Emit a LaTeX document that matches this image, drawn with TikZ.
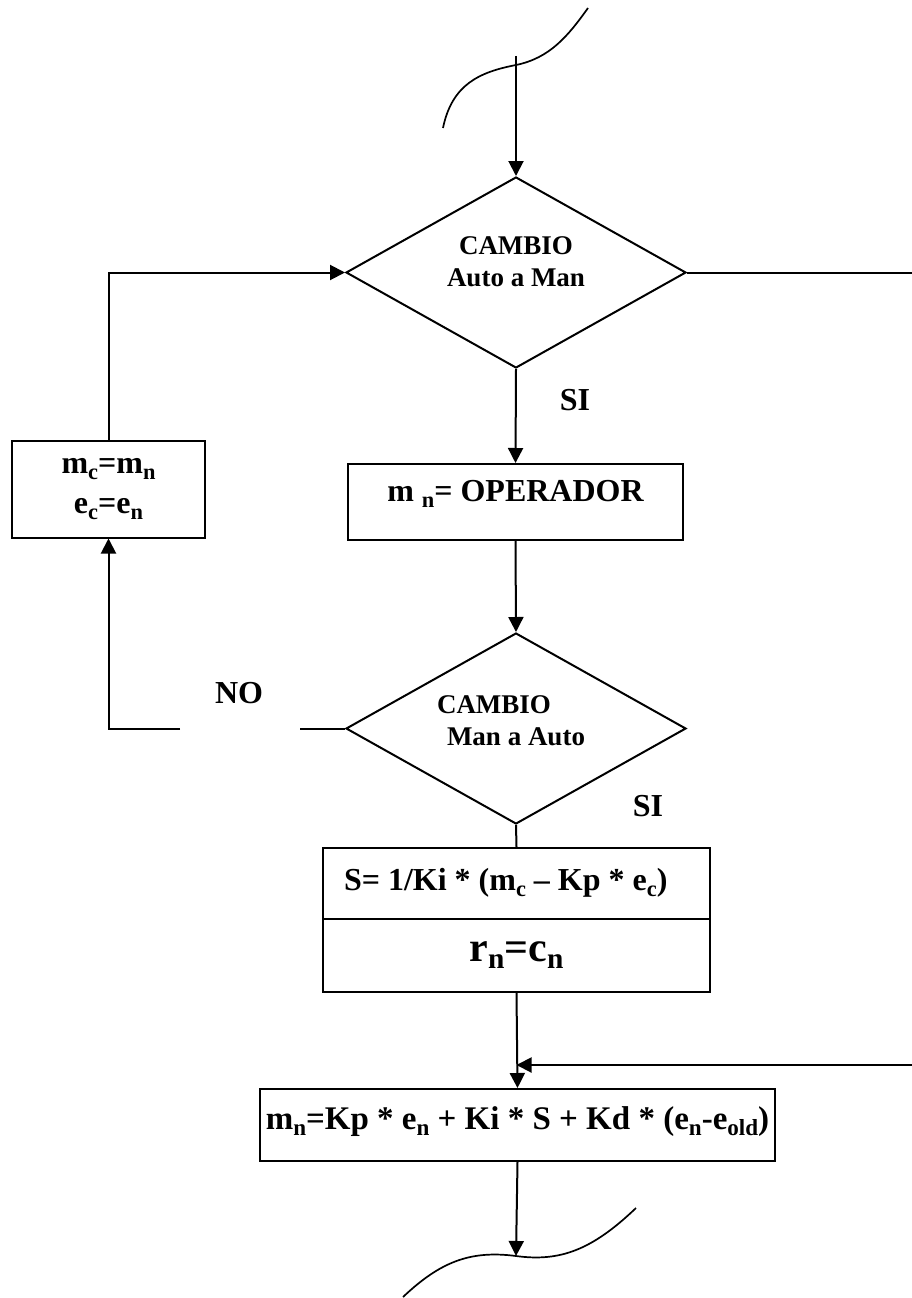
\documentclass[tikz,border=0pt]{standalone}
\usepackage{fontspec}
\setmainfont{Liberation Serif}
\usetikzlibrary{shapes.geometric,arrows.meta}
% lowered, reduced-size index for variable names
\newcommand{\dn}[1]{\raisebox{-0.18em}{\scalebox{0.7}{#1}}}
\begin{document}
\begin{tikzpicture}[x=1pt,y=-1pt,line width=2pt,
  flow/.style={-{Triangle[length=15pt,width=15pt]}},
  box/.style={draw,rectangle,inner sep=0pt},
  decision/.style={draw,diamond,inner sep=0pt,aspect=1.78,
    minimum width=340pt,minimum height=191pt},
  txtS/.style={inner sep=0pt,align=center,font=\bfseries\fontsize{27}{32}\selectfont},
  txtM/.style={inner sep=0pt,align=center,font=\bfseries\fontsize{32}{40}\selectfont},
  txtB/.style={inner sep=0pt,align=center,font=\bfseries\fontsize{33}{40}\selectfont},
  txtL/.style={inner sep=0pt,align=center,font=\bfseries\fontsize{42}{48}\selectfont},
  wave/.style={line width=1.7pt}]
\useasboundingbox (0,0) rectangle (912,1298);

% decision: automatic to manual
\node[decision] (d1) at (516,272.5) {};
\node[txtS] (d1t) at (516,262) {CAMBIO\\Auto a Man};

% manual value from the operator
\node[box,minimum width=335pt,minimum height=76pt] (op) at (515.5,502) {};
\node[txtM] (opt) at (515.5,494) {m \dn{n}= OPERADOR};

% stored values
\node[box,minimum width=193pt,minimum height=97pt] (mc) at (108.5,489) {};
\node[txtM] (mct) at (108.5,489) {m\dn{c}=m\dn{n}\\e\dn{c}=e\dn{n}};

% decision: manual to automatic
\node[decision] (d2) at (516,728.5) {};
\node[txtS] (d2a) at (494,705) {CAMBIO};
\node[txtS] (d2b) at (516,737) {Man a Auto};

% bumpless transfer block
\node[box,minimum width=387pt,minimum height=71pt] (s1) at (516.5,883.5) {};
\node[box,minimum width=387pt,minimum height=73pt] (s2) at (516.5,955.5) {};
\node[txtM,anchor=west] (s1t) at (343,883) {S= 1/Ki * (m\dn{c} -- Kp * e\dn{c})};
\node[txtL] (s2t) at (516.5,955) {r\dn{n}=c\dn{n}};

% PID output
\node[box,minimum width=515pt,minimum height=72pt] (mn) at (517.5,1125) {};
\node[txtB] (mnt) at (517.5,1122) {m\dn{n}=Kp * e\dn{n} + Ki * S + Kd * (e\dn{n}-e\dn{old})};

% branch labels
\node[txtM] (si1) at (575,400) {SI};
\node[txtM] (si2) at (648,806) {SI};
\node[txtM] (no) at (239,693) {NO};

% free ends of connectors
\coordinate (topin) at (516,56);
\coordinate (rout) at (912,272.5);
\coordinate (rin) at (912,1065);
\coordinate (gapR) at (300,728.5);
\coordinate (gapL) at (180,728.5);
\coordinate (endpt) at (516,1256);

% connectors
\draw[flow] (topin) -- (d1.north);
\draw[flow] (d1.south) -- (op.north);
\draw (d1.east) -- (rout);
\draw[flow] (op.south) -- (d2.north);
\draw[flow] (mc.north) |- (d1.west);
\draw (d2.west) -- (gapR);
\draw[flow] (gapL) -| (mc.south);
\draw (d2.south) -- (s1.north);
\draw[flow] (s2.south) -- (mn.north);
\draw[flow] (rin) -- (rin -| s2.south);
\draw[flow] (mn.south) -- (endpt);

% off-page break marks
\draw[wave] (443,128) .. controls (452,84) and (480,72) .. (516,65)
  .. controls (550,58) and (568,36) .. (588,8);
\draw[wave] (403,1297) .. controls (440,1262) and (470,1250) .. (516,1256)
  .. controls (560,1262) and (592,1250) .. (636,1208);
\end{tikzpicture}
\end{document}
